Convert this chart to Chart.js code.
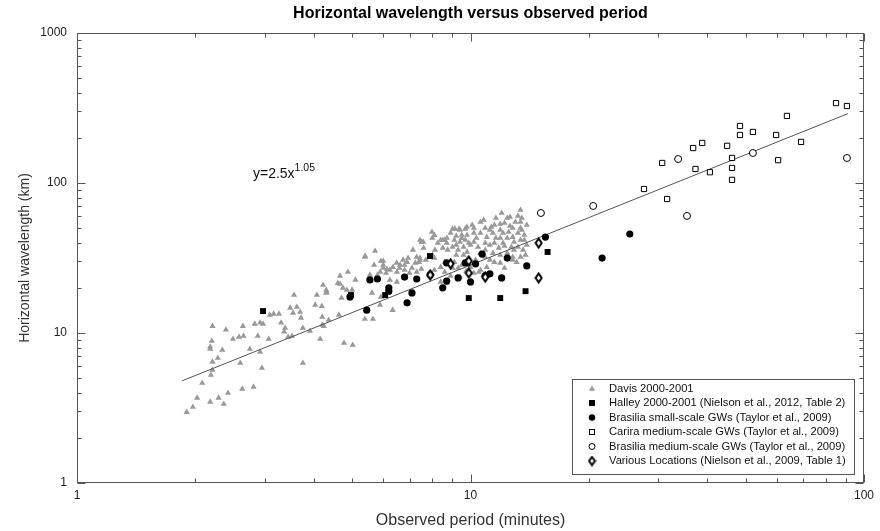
<!DOCTYPE html>
<html lang="en">
<head>
    <meta charset="UTF-8">
    <title>Horizontal wavelength versus observed period</title>
    <script src="https://cdn.jsdelivr.net/npm/chart.js@4.4.1/dist/chart.umd.min.js"></script>
    <style>
        html, body { margin: 0; padding: 0; background: #fff; }
        #wrap { width: 880px; height: 531px; }
    </style>
</head>
<body>
<div id="wrap"><canvas id="chart" width="880" height="531"></canvas></div>
<script>
// ---- data (period in minutes, horizontal wavelength in km) ----
const davisPeriod = [
    1.90,1.97,2.02,2.08,2.18,2.19,2.21,2.21,2.28,2.29,2.36,2.42,2.63,2.81,2.60,2.75,2.92,2.95,2.18,2.18,
    2.20,2.34,2.21,2.39,2.49,2.58,2.65,2.64,2.83,2.92,2.97,3.07,2.88,3.09,3.16,3.26,3.30,3.38,3.36,3.52,
    3.56,3.62,3.54,3.69,3.71,3.75,3.91,4.15,4.24,4.03,4.19,4.22,4.07,4.31,4.36,4.63,4.66,4.66,4.88,4.74,
    4.77,5.02,5.00,3.75,5.39,5.72,5.69,5.92,6.00,5.62,5.89,5.39,5.65,5.92,6.13,6.34,6.49,6.62,6.74,6.94,
    7.14,7.24,7.44,7.44,7.58,7.98,8.12,8.26,8.51,8.71,9.13,9.40,9.79,
    8.6,8.7,9.0,9.35,9.7,9.5,9.8,10.2,10.6,10.6,10.8,10.1,9.1,9.4,9.2,9.6,9.9,10.2,9.0,8.75,
    9.3,9.8,9.6,9.2,8.5,8.1,7.7,7.44,7.5,8.4,8.6,8.1,9.0,8.9,9.4,10.0,10.3,10.6,10.9,11.0,
    11.2,11.3,11.5,11.9,12.2,11.9,11.4,11.6,12.1,12.5,12.8,12.6,13.2,13.4,13.4,13.2,12.8,12.4,12.1,11.8,
    11.4,11.2,11.9,12.4,12.8,13.4,13.2,12.7,10.6,10.8,10.2,8.7,8.4,9.8,9.5,9.1,8.4,8.0,11.6,12.0,
    12.4,12.9,
    10.5,11.0,11.9,12.8,13.4,13.6,10.9,13.9,13.7,13.9,13.5,
    5.4,6.0,6.0,6.8,6.9,7.3,7.4,6.35,6.6,6.8,7.1,7.3,7.5,7.0,6.5,6.24,6.1,5.9,5.8,5.55,
    6.24,5.1,4.6,4.3,4.3,4.85,6.5,4.7,4.2,4.2,
    3.48,3.44,
    9.5,10.0,10.35,10.45,10.9,11.5,12.2,12.6,13.0,13.5,13.7,12.9,11.9,11.2,10.9,10.2,9.7,9.2,8.9,8.1,
    7.6,8.0,8.6,9.3,9.75,11.5,12.2,13.1,13.8,13.4
];
const davisWavelength = [
    2.97,3.21,3.69,4.64,3.47,5.25,5.67,6.41,6.81,3.69,3.36,3.98,4.23,4.37,6.31,7.82,7.47,5.84,7.82,8.10,
    8.84,7.70,11.1,10.5,9.12,9.40,9.55,11.1,11.5,11.7,11.5,9.12,9.55,13.2,13.4,13.4,11.7,10.8,10.2,9.55,
    17.9,14.9,13.6,13.8,12.6,10.8,10.3,9.12,11.1,15.4,15.1,20.9,17.9,18.8,12.2,13.2,24.0,21.2,25.5,20.0,
    8.58,8.32,19.4,6.31,32.1,35.2,28.4,30.2,27.1,18.5,15.4,12.4,12.4,17.4,26.7,14.2,29.3,28.4,30.7,31.6,
    35.8,29.3,31.6,41.7,40.5,47.1,35.8,39.8,41.7,43.0,49.4,48.6,50.9,
    41.7,39.8,49.4,49.4,49.4,45.0,45.0,46.4,46.4,54.9,56.7,52.5,41.7,40.4,38.6,37.4,39.8,40.4,37.4,35.8,
    35.8,34.7,33.1,33.1,36.9,31.6,30.7,30.7,40.4,27.5,25.5,26.3,27.1,24.0,23.6,27.5,30.7,34.1,39.8,43.6,
    38.6,50.9,52.5,53.3,54.1,48.6,46.4,43.0,46.4,47.1,50.1,59.3,60.3,54.9,50.1,46.4,43.6,43.0,39.8,36.9,
    34.1,30.7,33.1,34.1,32.1,41.7,37.4,37.4,26.3,24.4,25.1,21.5,21.9,30.7,28.4,29.7,41.7,43.0,58.4,63.1,
    58.4,40.4,
    25.5,27.5,29.3,30.7,32.1,35.8,32.1,38.6,45.0,52.5,58.4,
    32.6,30.2,28.4,28.4,29.7,32.1,29.7,27.5,27.1,26.3,27.1,25.5,26.7,25.1,25.5,26.3,25.1,25.5,24.4,24.4,
    22.6,22.6,21.5,19.35,18.5,19.35,21.9,17.1,12.8,11.3,
    14.7,9.4,
    42.9,38.6,43.0,37.4,35.8,39.8,38.0,51.7,54.9,48.6,41.7,35.8,43.0,48.6,50.1,50.1,41.7,44.3,46.4,44.9,
    36.9,33.1,29.7,27.1,25.9,29.7,27.1,29.7,33.1,66.0
];

const halleyPeriod = [2.97, 7.89, 4.97, 6.07, 9.9, 11.9, 13.8, 15.7];
const halleyWavelength = [14.0, 32.6, 17.9, 17.9, 17.1, 17.1, 19.0, 34.7];

const brasSmallPeriod = [4.94, 5.45, 5.55, 5.8, 6.2, 6.2, 6.8, 6.9, 7.1, 7.3, 7.9, 8.5, 8.7, 8.7,
    9.3, 9.7, 10.0, 10.3, 10.7, 11.2, 10.9, 12.0, 12.4, 13.9, 15.5, 21.6, 25.4];
const brasSmallWavelength = [17.4, 14.2, 22.6, 22.9, 20.0, 19.0, 23.6, 15.9, 18.5, 22.9, 24.4, 20.0, 29.3, 22.2,
    23.3, 29.3, 21.9, 28.9, 33.6, 24.8, 24.0, 23.3, 31.6, 28.0, 43.6, 31.6, 45.7];

const cariraPeriod = [84.9, 90.5, 63.7, 48.4, 48.4, 52.2, 59.8, 69.2, 38.8, 36.8, 44.9, 46.2, 46.2, 46.2,
    40.6, 37.3, 30.7, 60.5, 27.6, 31.6];
const cariraWavelength = [341, 326, 280, 240, 209, 219, 209, 188, 185, 171, 177, 147, 126, 105,
    118, 124, 136, 142, 91.2, 78.2];

const brasMediumPeriod = [15.1, 20.5, 33.7, 52.2, 90.5, 35.5];
const brasMediumWavelength = [63.1, 70.3, 144.5, 158.5, 146.8, 60.3];

const variousPeriod = [7.9, 8.9, 9.9, 9.9, 10.9, 14.9, 14.9];
const variousWavelength = [24.4, 28.9, 30.2, 25.1, 23.6, 39.8, 23.3];

// fitted power law y = 2.5 x^1.05, end points
const fitPeriod = [1.85, 91];
const fitWavelength = [4.8, 290];

const xTickLabels = ['1', '10', '100'];
const yTickLabels = ['1', '10', '100', '1000'];

const seriesNames = [
    'Davis 2000-2001',
    'Halley 2000-2001 (Nielson et al., 2012, Table 2)',
    'Brasilia small-scale GWs (Taylor et al., 2009)',
    'Carira medium-scale GWs (Taylor et al., 2009)',
    'Brasilia medium-scale GWs (Taylor et al., 2009)',
    'Various Locations (Nielson et al., 2009, Table 1)'
];

// ---- helpers ----
const FONT = '"Liberation Sans", Arial, Helvetica, sans-serif';

function pts(xs, ys) {
    return xs.map((x, i) => ({ x: x, y: ys[i] }));
}

// 1..9 x 10^k between min and max, used as tick positions
function logTickValues(min, max) {
    const out = [];
    for (let p = min; p < max; p *= 10) {
        for (let m = 1; m < 10; m++) out.push(m * p);
    }
    out.push(max);
    return out.map(v => ({ value: v }));
}

// tall diamond marker with a thick outline
function makeDiamond(w, h, lw) {
    const c = document.createElement('canvas');
    c.width = w; c.height = h;
    const g = c.getContext('2d');
    g.beginPath();
    g.moveTo(w / 2, lw / 2 + 0.5);
    g.lineTo(w - lw / 2 - 0.5, h / 2);
    g.lineTo(w / 2, h - lw / 2 - 0.5);
    g.lineTo(lw / 2 + 0.5, h / 2);
    g.closePath();
    g.fillStyle = '#fff';
    g.fill();
    g.lineWidth = lw;
    g.strokeStyle = '#000';
    g.stroke();
    return c;
}
const diamond = makeDiamond(9, 12, 2);
const diamondSmall = makeDiamond(9, 11, 2);

// frame, inward ticks, title, annotation and legend
const decorPlugin = {
    id: 'decor',
    afterDraw(chart) {
        const { ctx, chartArea: a, scales: { x, y } } = chart;
        const L = Math.round(a.left) + 0.5, R = Math.round(a.right) - 0.5;
        const T = Math.round(a.top) + 0.5, B = Math.round(a.bottom) - 0.5;
        ctx.save();
        ctx.strokeStyle = '#555';
        ctx.lineWidth = 1;
        ctx.strokeRect(L, T, R - L, B - T);

        ctx.beginPath();
        x.ticks.forEach(t => {
            const px = Math.round(x.getPixelForValue(t.value)) + 0.5;
            const len = t.label ? 8 : 4;
            ctx.moveTo(px, B); ctx.lineTo(px, B - len);
            ctx.moveTo(px, T); ctx.lineTo(px, T + len);
        });
        y.ticks.forEach(t => {
            const py = Math.round(y.getPixelForValue(t.value)) + 0.5;
            const len = t.label ? 8 : 4;
            ctx.moveTo(L, py); ctx.lineTo(L + len, py);
            ctx.moveTo(R, py); ctx.lineTo(R - len, py);
        });
        ctx.stroke();

        // title
        ctx.fillStyle = '#000';
        ctx.font = 'bold 16px ' + FONT;
        ctx.textAlign = 'center';
        ctx.textBaseline = 'middle';
        ctx.fillText('Horizontal wavelength versus observed period', (a.left + a.right) / 2, 14);

        // fit equation
        const ex = x.getPixelForValue(2.8), ey = y.getPixelForValue(115);
        ctx.textAlign = 'left';
        ctx.textBaseline = 'middle';
        ctx.fillStyle = '#111';
        ctx.font = '14px ' + FONT;
        ctx.fillText('y=2.5x', ex, ey);
        const w = ctx.measureText('y=2.5x').width;
        ctx.font = '10.5px ' + FONT;
        ctx.fillText('1.05', ex + w, ey - 6);

        // legend
        const bw = 282, bh = 95;
        const bx = Math.round(a.right) - 10 - bw, by = Math.round(a.bottom) - 9 - bh;
        ctx.fillStyle = '#fff';
        ctx.fillRect(bx, by, bw, bh);
        ctx.strokeStyle = '#555';
        ctx.strokeRect(bx + 0.5, by + 0.5, bw, bh);
        ctx.font = '11.2px ' + FONT;
        ctx.textBaseline = 'middle';
        seriesNames.forEach((name, i) => {
            const cy = by + 9.5 + i * 14.5;
            const sx = bx + 20;
            drawLegendSymbol(ctx, i, sx, cy);
            ctx.fillStyle = '#111';
            ctx.fillText(name, bx + 37, cy);
        });
        ctx.restore();
    }
};

function drawLegendSymbol(ctx, i, sx, cy) {
    ctx.save();
    ctx.lineWidth = 1;
    ctx.strokeStyle = '#000';
    if (i === 0) {
        ctx.fillStyle = '#999';
        ctx.beginPath();
        ctx.moveTo(sx, cy - 3); ctx.lineTo(sx + 3, cy + 2.2); ctx.lineTo(sx - 3, cy + 2.2);
        ctx.closePath(); ctx.fill();
    } else if (i === 1) {
        ctx.fillStyle = '#000';
        ctx.fillRect(sx - 3, cy - 3, 6, 6);
    } else if (i === 2) {
        ctx.fillStyle = '#000';
        ctx.beginPath(); ctx.arc(sx, cy, 3.2, 0, Math.PI * 2); ctx.fill();
    } else if (i === 3) {
        ctx.strokeRect(sx - 2.5, cy - 2.5, 5, 5);
    } else if (i === 4) {
        ctx.beginPath(); ctx.arc(sx, cy, 3, 0, Math.PI * 2); ctx.stroke();
    } else {
        ctx.drawImage(diamondSmall, sx - 4.5, cy - 5.5);
    }
    ctx.restore();
}

// ---- chart ----
const chart = new Chart(document.getElementById('chart'), {
    type: 'scatter',
    data: {
        datasets: [
            {
                label: seriesNames[0],
                data: pts(davisPeriod, davisWavelength),
                pointStyle: 'triangle',
                radius: 3.6,
                backgroundColor: '#999',
                borderWidth: 0,
                order: 3
            },
            {
                label: 'fit',
                data: pts(fitPeriod, fitWavelength),
                showLine: true,
                borderColor: '#555',
                borderWidth: 1,
                pointRadius: 0,
                order: 2
            },
            {
                label: seriesNames[1],
                data: pts(halleyPeriod, halleyWavelength),
                pointStyle: 'rect',
                radius: 4.2,
                backgroundColor: '#000',
                borderWidth: 0,
                order: 1
            },
            {
                label: seriesNames[2],
                data: pts(brasSmallPeriod, brasSmallWavelength),
                pointStyle: 'circle',
                radius: 3.6,
                backgroundColor: '#000',
                borderWidth: 0,
                order: 1
            },
            {
                label: seriesNames[3],
                data: pts(cariraPeriod, cariraWavelength),
                pointStyle: 'rect',
                radius: 3.7,
                backgroundColor: '#fff',
                borderColor: '#000',
                borderWidth: 1,
                order: 1
            },
            {
                label: seriesNames[4],
                data: pts(brasMediumPeriod, brasMediumWavelength),
                pointStyle: 'circle',
                radius: 3.5,
                backgroundColor: '#fff',
                borderColor: '#000',
                borderWidth: 1,
                order: 1
            },
            {
                label: seriesNames[5],
                data: pts(variousPeriod, variousWavelength),
                pointStyle: diamond,
                order: 0
            }
        ]
    },
    options: {
        responsive: false,
        animation: false,
        events: [],
        layout: { padding: { top: 33, right: 16, left: 0, bottom: 0 } },
        plugins: {
            legend: { display: false },
            tooltip: { enabled: false },
            title: { display: false }
        },
        scales: {
            x: {
                type: 'logarithmic',
                min: 1,
                max: 100,
                grid: { display: false, drawTicks: false },
                border: { display: false },
                afterBuildTicks: s => { s.ticks = logTickValues(1, 100); },
                afterFit: s => { s.height = 48; },
                ticks: {
                    autoSkip: false,
                    maxRotation: 0,
                    minRotation: 0,
                    padding: 5,
                    color: '#222',
                    font: { family: FONT, size: 12 },
                    callback: v => xTickLabels.includes(String(v)) ? String(v) : ''
                },
                title: {
                    display: true,
                    text: 'Observed period (minutes)',
                    color: '#333',
                    font: { family: FONT, size: 16 },
                    padding: { top: 0, bottom: 1 }
                }
            },
            y: {
                type: 'logarithmic',
                min: 1,
                max: 1000,
                grid: { display: false, drawTicks: false },
                border: { display: false },
                afterBuildTicks: s => { s.ticks = logTickValues(1, 1000); },
                afterFit: s => { s.width = 77; },
                ticks: {
                    autoSkip: false,
                    padding: 10,
                    color: '#222',
                    font: { family: FONT, size: 12 },
                    callback: v => yTickLabels.includes(String(v)) ? String(v) : ''
                },
                title: {
                    display: true,
                    text: 'Horizontal wavelength (km)',
                    color: '#333',
                    font: { family: FONT, size: 14 },
                    padding: { top: 17, bottom: 0 }
                }
            }
        }
    },
    plugins: [decorPlugin]
});
</script>
</body>
</html>
